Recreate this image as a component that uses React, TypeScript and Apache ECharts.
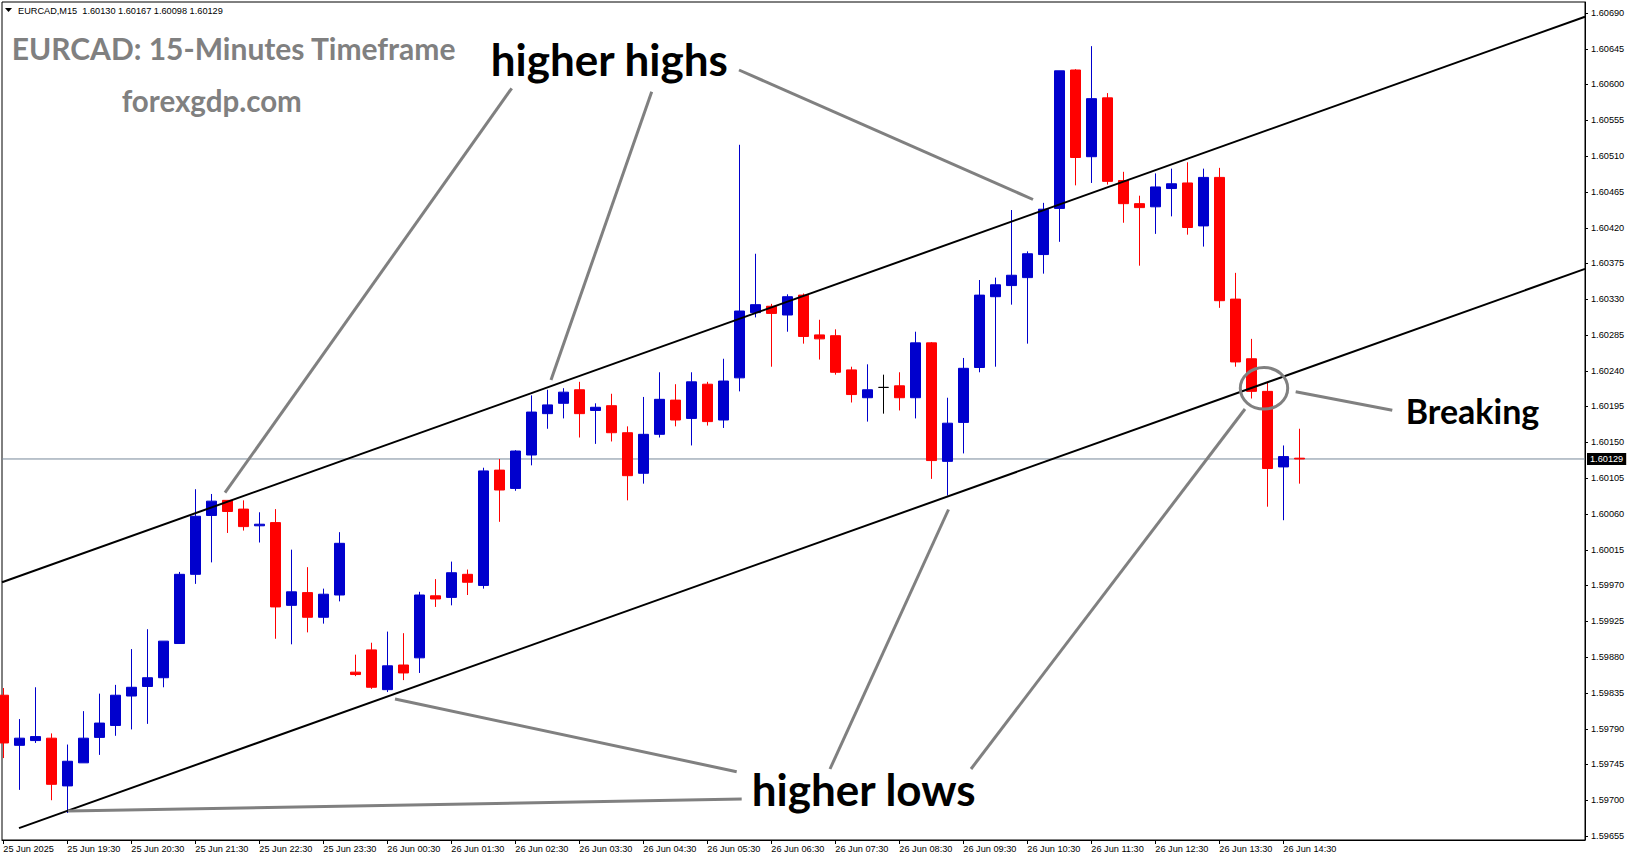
import React, { useEffect, useRef } from 'react';
import * as echarts from 'echarts';

// ---- candle data (EURCAD M15), index 0 = 25 Jun 18:30 ----
const opens = [
  1.59832, 1.59769, 1.59775, 1.59778, 1.59718, 1.59747, 1.59779, 1.59794, 1.59831, 1.59843,
  1.59854, 1.59897, 1.59984, 1.60058, 1.60077, 1.60066, 1.60045, 1.60049, 1.59945, 1.59961,
  1.59930, 1.59958, 1.59861, 1.59889, 1.59839, 1.59870, 1.59879, 1.59957, 1.59955, 1.59984,
  1.59970, 1.60115, 1.60092, 1.60134, 1.60186, 1.60199, 1.60216, 1.60190, 1.60196, 1.60162,
  1.60111, 1.60160, 1.60203, 1.60180, 1.60223, 1.60178, 1.60231, 1.60313, 1.60321, 1.60310,
  1.60335, 1.60285, 1.60284, 1.60241, 1.60206, 1.60219, 1.60221, 1.60206, 1.60275, 1.60126,
  1.60175, 1.60244, 1.60333, 1.60347, 1.60357, 1.60386, 1.60444, 1.60618, 1.60509, 1.60583,
  1.60479, 1.60450, 1.60446, 1.60469, 1.60476, 1.60422, 1.60483, 1.60330, 1.60255, 1.60214,
  1.60119, 1.60130,
];
const highs = [
  1.59841, 1.59802, 1.59842, 1.59784, 1.59770, 1.59812, 1.59834, 1.59845, 1.59890, 1.59915,
  1.59900, 1.59987, 1.60091, 1.60085, 1.60077, 1.60077, 1.60062, 1.60066, 1.60015, 1.59993,
  1.59966, 1.60037, 1.59883, 1.59898, 1.59912, 1.59910, 1.59962, 1.59978, 1.60000, 1.59990,
  1.60118, 1.60129, 1.60140, 1.60209, 1.60216, 1.60218, 1.60226, 1.60199, 1.60211, 1.60170,
  1.60207, 1.60238, 1.60223, 1.60238, 1.60226, 1.60255, 1.60524, 1.60387, 1.60324, 1.60336,
  1.60337, 1.60304, 1.60292, 1.60245, 1.60248, 1.60235, 1.60238, 1.60289, 1.60276, 1.60206,
  1.60256, 1.60354, 1.60357, 1.60442, 1.60390, 1.60451, 1.60617, 1.60619, 1.60648, 1.60589,
  1.60490, 1.60460, 1.60488, 1.60494, 1.60502, 1.60494, 1.60495, 1.60363, 1.60280, 1.60226,
  1.60146, 1.60167,
];
const lows = [
  1.59753, 1.59713, 1.59772, 1.59700, 1.59684, 1.59747, 1.59757, 1.59781, 1.59789, 1.59796,
  1.59842, 1.59897, 1.59972, 1.59999, 1.60036, 1.60039, 1.60024, 1.59903, 1.59896, 1.59911,
  1.59922, 1.59950, 1.59856, 1.59840, 1.59836, 1.59851, 1.59860, 1.59943, 1.59945, 1.59958,
  1.59966, 1.60050, 1.60089, 1.60121, 1.60167, 1.60180, 1.60156, 1.60148, 1.60151, 1.60077,
  1.60098, 1.60156, 1.60170, 1.60146, 1.60171, 1.60168, 1.60214, 1.60307, 1.60245, 1.60289,
  1.60274, 1.60254, 1.60235, 1.60200, 1.60176, 1.60186, 1.60190, 1.60180, 1.60104, 1.60083,
  1.60136, 1.60238, 1.60245, 1.60323, 1.60274, 1.60362, 1.60402, 1.60473, 1.60476, 1.60474,
  1.60426, 1.60372, 1.60412, 1.60434, 1.60411, 1.60396, 1.60319, 1.60245, 1.60205, 1.60069,
  1.60052, 1.60098,
];
const closes = [
  1.59772, 1.59778, 1.59780, 1.59720, 1.59749, 1.59778, 1.59797, 1.59832, 1.59842, 1.59854,
  1.59900, 1.59984, 1.60057, 1.60076, 1.60063, 1.60044, 1.60047, 1.59943, 1.59962, 1.59930,
  1.59959, 1.60023, 1.59858, 1.59842, 1.59869, 1.59860, 1.59958, 1.59953, 1.59986, 1.59974,
  1.60114, 1.60090, 1.60139, 1.60188, 1.60197, 1.60213, 1.60186, 1.60194, 1.60162, 1.60108,
  1.60160, 1.60204, 1.60178, 1.60226, 1.60176, 1.60227, 1.60315, 1.60323, 1.60312, 1.60333,
  1.60283, 1.60280, 1.60238, 1.60210, 1.60216, 1.60219, 1.60206, 1.60275, 1.60127, 1.60174,
  1.60243, 1.60335, 1.60348, 1.60360, 1.60387, 1.60443, 1.60617, 1.60508, 1.60582, 1.60478,
  1.60450, 1.60445, 1.60471, 1.60475, 1.60420, 1.60483, 1.60328, 1.60251, 1.60214, 1.60117,
  1.60132, 1.60129,
];

// ---- axis ticks ----
const xTickIndex = [0, 4, 8, 12, 16, 20, 24, 28, 32, 36, 40, 44, 48, 52, 56, 60, 64, 68, 72, 76, 80];
const xTickLabels = [
  '25 Jun 2025', '25 Jun 19:30', '25 Jun 20:30', '25 Jun 21:30', '25 Jun 22:30', '25 Jun 23:30',
  '26 Jun 00:30', '26 Jun 01:30', '26 Jun 02:30', '26 Jun 03:30', '26 Jun 04:30', '26 Jun 05:30',
  '26 Jun 06:30', '26 Jun 07:30', '26 Jun 08:30', '26 Jun 09:30', '26 Jun 10:30', '26 Jun 11:30',
  '26 Jun 12:30', '26 Jun 13:30', '26 Jun 14:30',
];
const yTickValues = [
  1.59655, 1.59700, 1.59745, 1.59790, 1.59835, 1.59880, 1.59925, 1.59970, 1.60015, 1.60060,
  1.60105, 1.60150, 1.60195, 1.60240, 1.60285, 1.60330, 1.60375, 1.60420, 1.60465, 1.60510,
  1.60555, 1.60600, 1.60645, 1.60690,
];

const currentPrice = 1.60129;
const headerText = 'EURCAD,M15  1.60130 1.60167 1.60098 1.60129';

const X_MIN = -0.08125;
const X_MAX = 98.85625;
const Y_MIN = 1.5965;
const Y_MAX = 1.607035;

// channel lines: [candle index, price]
const upperChannel = [[X_MIN, 1.59974], [X_MAX, 1.60685]];
const lowerChannel = [[0.98, 1.59665], [X_MAX, 1.60368]];

const AX_FONT = '"Liberation Sans", Arial, sans-serif';
const AX_SIZE = 9.2;
const TXT_FONT = 'Lato, "Open Sans", sans-serif';
const GRAY = '#808080';

export default function App() {
  const ref = useRef<HTMLDivElement>(null);
  useEffect(() => {
    if (!ref.current) return;
    const chart = echarts.init(ref.current, null, { renderer: 'svg' });
    const candleData = opens.map((o, i) => [i, o, closes[i], lows[i], highs[i]]);

    const grayLine = (x1: number, y1: number, x2: number, y2: number) => ({
      type: 'line',
      z: 100,
      shape: { x1, y1, x2, y2 },
      style: { stroke: GRAY, lineWidth: 3 },
      silent: true,
    });
    const label = (text: string, x: number, y: number, size: number, color: string) => ({
      type: 'text',
      z: 101,
      style: {
        text,
        x,
        y,
        fill: color,
        font: `bold ${size}px ${TXT_FONT}`,
        textAlign: 'left',
        textVerticalAlign: 'middle',
      },
      silent: true,
    });

    const option: any = {
      animation: false,
      backgroundColor: '#ffffff',
      grid: {
        left: 2,
        right: 46,
        top: 2,
        bottom: 21,
        show: true,
        borderColor: '#000',
        borderWidth: 1,
        backgroundColor: '#fff',
      },
      xAxis: {
        type: 'value',
        min: X_MIN,
        max: X_MAX,
        axisLine: { show: true, onZero: false, lineStyle: { color: '#000', width: 1 } },
        axisTick: { show: false },
        axisLabel: {
          customValues: xTickIndex,
          formatter: (v: number) => xTickLabels[xTickIndex.indexOf(Math.round(v))] || '',
          align: 'left',
          margin: 4,
          fontSize: AX_SIZE,
          fontFamily: AX_FONT,
          color: '#000',
        },
        splitLine: { show: false },
      },
      yAxis: {
        type: 'value',
        position: 'right',
        min: Y_MIN,
        max: Y_MAX,
        scale: true,
        axisLine: { show: true, onZero: false, lineStyle: { color: '#000', width: 1 } },
        axisTick: { show: false },
        axisLabel: {
          customValues: yTickValues,
          formatter: (v: number) => v.toFixed(5),
          margin: 6,
          fontSize: AX_SIZE,
          fontFamily: AX_FONT,
          color: '#000',
        },
        splitLine: { show: false },
      },
      series: [
        {
          type: 'line',
          data: [[X_MIN, currentPrice], [X_MAX, currentPrice]],
          symbol: 'none',
          silent: true,
          z: 1,
          lineStyle: { color: '#778899', width: 1 },
          endLabel: {
            show: true,
            formatter: () => currentPrice.toFixed(5),
            backgroundColor: '#000',
            color: '#fff',
            padding: [2, 3, 1, 3],
            distance: 2,
            fontSize: AX_SIZE,
            fontFamily: AX_FONT,
          },
        },
        {
          type: 'candlestick',
          data: candleData,
          barWidth: 10,
          clip: true,
          z: 3,
          itemStyle: {
            color: '#0000cd',
            color0: '#ff0000',
            borderColor: '#0000cd',
            borderColor0: '#ff0000',
            borderColorDoji: '#000000',
            borderWidth: 1,
          },
        },
        {
          type: 'line',
          data: upperChannel,
          symbol: 'none',
          silent: true,
          z: 5,
          lineStyle: { color: '#000', width: 2 },
        },
        {
          type: 'line',
          data: lowerChannel,
          symbol: 'none',
          silent: true,
          z: 5,
          lineStyle: { color: '#000', width: 2 },
        },
        // y-axis tick marks (outside, to the right of the price axis line)
        {
          type: 'custom',
          silent: true,
          clip: false,
          z: 6,
          data: yTickValues.map((v) => [X_MAX, v]),
          encode: { x: 0, y: 1 },
          renderItem: (params: any, api: any) => {
            const p = api.coord([api.value(0), api.value(1)]);
            const y = Math.round(p[1]) + 0.5;
            return {
              type: 'line',
              shape: { x1: p[0], y1: y, x2: p[0] + 3, y2: y },
              style: { stroke: '#000', lineWidth: 1 },
            };
          },
        },
        // x-axis tick marks (below the time axis line)
        {
          type: 'custom',
          silent: true,
          clip: false,
          z: 6,
          data: xTickIndex.map((i) => [i, Y_MIN]),
          encode: { x: 0, y: 1 },
          renderItem: (params: any, api: any) => {
            const p = api.coord([api.value(0), api.value(1)]);
            const x = Math.round(p[0]) + 0.5;
            return {
              type: 'line',
              shape: { x1: x, y1: p[1], x2: x, y2: p[1] + 4 },
              style: { stroke: '#000', lineWidth: 1 },
            };
          },
        },
      ],
      graphic: [
        {
          type: 'polygon',
          z: 100,
          shape: { points: [[5, 8], [12, 8], [8.5, 12]] },
          style: { fill: '#000' },
        },
        {
          type: 'text',
          z: 100,
          style: {
            text: headerText,
            x: 18,
            y: 11,
            fill: '#000',
            font: `${AX_SIZE}px ${AX_FONT}`,
            textAlign: 'left',
            textVerticalAlign: 'middle',
          },
        },
        label('EURCAD: 15-Minutes Timeframe', 11.7, 47.6, 30, GRAY),
        label('forexgdp.com', 121.7, 100.3, 29.5, GRAY),
        grayLine(511.7, 88.3, 225, 492.7),
        grayLine(651.7, 91.7, 551, 380),
        grayLine(739, 70, 1033, 199.5),
        grayLine(741.7, 799, 68, 811),
        grayLine(736.7, 771.7, 395, 699),
        grayLine(830, 769, 948.5, 509.5),
        grayLine(971, 769, 1245, 409),
        grayLine(1392.3, 410.3, 1295.7, 391.7),
        {
          type: 'ellipse',
          z: 100,
          shape: { cx: 1264, cy: 388.3, rx: 23.7, ry: 20.8 },
          style: { fill: 'none', stroke: GRAY, lineWidth: 3 },
          silent: true,
        },
        label('higher highs', 490.7, 58.7, 44, '#000'),
        label('higher lows', 751.7, 788.7, 44, '#000'),
        label('Breaking', 1405.7, 410.7, 34, '#000'),
      ],
    };
    chart.setOption(option);
    return () => chart.dispose();
  }, []);

  return (
    <div
      ref={ref}
      style={{ position: 'fixed', left: 0, top: 0, width: '1631px', height: '861px', background: '#fff' }}
    />
  );
}
